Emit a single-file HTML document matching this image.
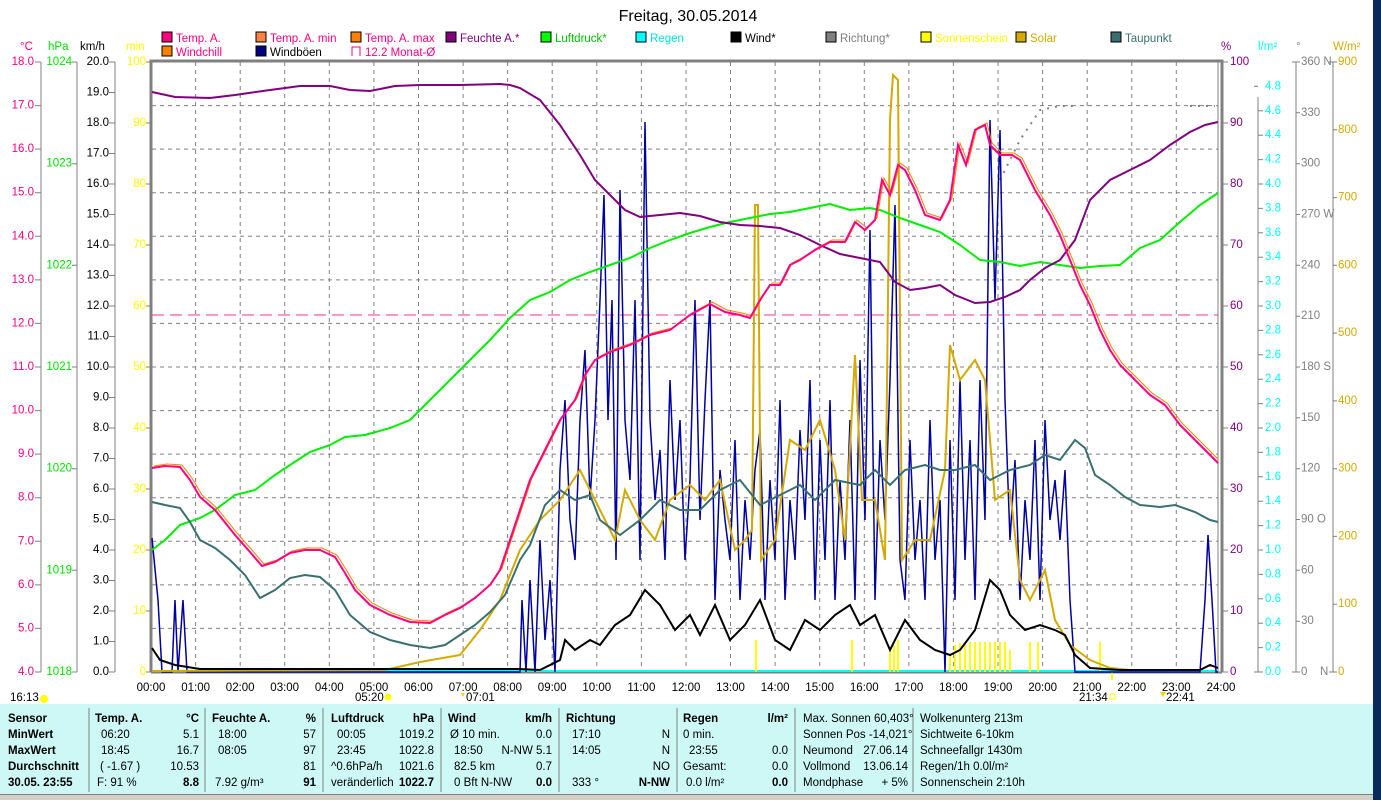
<!DOCTYPE html>
<html><head><meta charset="utf-8"><style>
html,body{margin:0;padding:0;background:#fff;width:1381px;height:800px;overflow:hidden}
svg{display:block;font-family:"Liberation Sans",sans-serif}
</style></head><body>
<svg width="1381" height="800" viewBox="0 0 1381 800" xmlns="http://www.w3.org/2000/svg">
<rect width="1381" height="800" fill="#fff"/>
<rect x="1373" y="0" width="8" height="800" fill="#0a2a5a"/>
<text x="688" y="21" font-size="16" text-anchor="middle" fill="#000">Freitag, 30.05.2014</text>

<!-- legend -->
<g font-size="11.5">
<rect x="162" y="32" width="10" height="10" fill="#ff0080" stroke="#000"/><text x="176" y="42" fill="#ff0080">Temp. A.</text>
<rect x="256" y="32" width="10" height="10" fill="#ff8040" stroke="#000"/><text x="270" y="42" fill="#ff0080">Temp. A. min</text>
<rect x="351" y="32" width="10" height="10" fill="#ff8000" stroke="#000"/><text x="365" y="42" fill="#ff0080">Temp. A. max</text>
<rect x="446" y="32" width="10" height="10" fill="#800080" stroke="#000"/><text x="460" y="42" fill="#800080">Feuchte A.*</text>
<rect x="541" y="32" width="10" height="10" fill="#00ff00" stroke="#000"/><text x="555" y="42" fill="#00c000">Luftdruck*</text>
<rect x="636" y="32" width="10" height="10" fill="#00ffff" stroke="#000"/><text x="650" y="42" fill="#00e0e0">Regen</text>
<rect x="731" y="32" width="10" height="10" fill="#000" stroke="#000"/><text x="745" y="42" fill="#000">Wind*</text>
<rect x="826" y="32" width="10" height="10" fill="#808080" stroke="#000"/><text x="840" y="42" fill="#808080">Richtung*</text>
<rect x="921" y="32" width="10" height="10" fill="#ffff00" stroke="#000"/><text x="935" y="42" fill="#ffff00">Sonnenschein</text>
<rect x="1016" y="32" width="10" height="10" fill="#d4aa00" stroke="#000"/><text x="1030" y="42" fill="#d4aa00">Solar</text>
<rect x="1111" y="32" width="10" height="10" fill="#3a7070" stroke="#000"/><text x="1125" y="42" fill="#3a7070">Taupunkt</text>
<rect x="162" y="46" width="10" height="10" fill="#ff8000" stroke="#000"/><text x="176" y="56" fill="#ff0080">Windchill</text>
<rect x="256" y="46" width="10" height="10" fill="#000080" stroke="#000"/><text x="270" y="56" fill="#000">Windböen</text>
<path d="M352 56 V47 H360 V56" fill="none" stroke="#ff0080"/><text x="365" y="56" fill="#ff0080">12.2 Monat-Ø</text>
</g>

<!-- units -->
<g font-size="11.5">
<text x="20" y="50" fill="#ff0080">°C</text>
<text x="48" y="50" fill="#00e000">hPa</text>
<text x="80" y="50" fill="#000">km/h</text>
<text x="126" y="50" fill="#ffff00">min</text>
<text x="1221" y="50" fill="#800080">%</text>
<text x="1258" y="50" fill="#00ffff">l/m²</text>
<text x="1296" y="50" fill="#808080">°</text>
<text x="1333" y="50" fill="#d4aa00">W/m²</text>
</g>

<!-- grid -->
<g stroke="#808080" stroke-dasharray="4,4" stroke-width="1">
<path d="M152 105.6H1218M152 149.1H1218M152 192.7H1218M152 236.3H1218M152 279.9H1218M152 323.4H1218M152 367H1218M152 410.6H1218M152 454.1H1218M152 497.7H1218M152 541.3H1218M152 584.9H1218M152 628.4H1218"/>
<path d="M195.6 62V672M240.2 62V672M284.7 62V672M329.3 62V672M373.9 62V672M418.5 62V672M463.1 62V672M507.6 62V672M552.2 62V672M596.8 62V672M641.4 62V672M686 62V672M730.5 62V672M775.1 62V672M819.7 62V672M864.3 62V672M908.9 62V672M953.4 62V672M998 62V672M1042.6 62V672M1087.2 62V672M1131.8 62V672M1176.3 62V672"/>
</g>
<!-- plot frame -->
<path d="M151 672V61H1222V672" fill="none" stroke="#808080" stroke-width="3"/>
<line x1="1218" y1="62" x2="1218" y2="672" stroke="#808080" stroke-width="1"/>
<line x1="151" y1="672.5" x2="1222" y2="672.5" stroke="#808080" stroke-width="2"/>

<!-- left axes -->
<g stroke="#808080" fill="none">
<path d="M41 62V672M77 62V672M115 62V672"/>
<path d="M35 62H41M35 105.6H41M35 149.1H41M35 192.7H41M35 236.3H41M35 279.9H41M35 323.4H41M35 367H41M35 410.6H41M35 454.1H41M35 497.7H41M35 541.3H41M35 584.9H41M35 628.4H41M35 672H41"/>
<path d="M72 62H77M72 163.7H77M72 265.3H77M72 367H77M72 468.7H77M72 570.3H77M72 672H77"/>
<path d="M109 62H115M109 92.5H115M109 123H115M109 153.5H115M109 184H115M109 214.5H115M109 245H115M109 275.5H115M109 306H115M109 336.5H115M109 367H115M109 397.5H115M109 428H115M109 458.5H115M109 489H115M109 519.5H115M109 550H115M109 580.5H115M109 611H115M109 641.5H115M109 672H115"/>
<path d="M146 62H151M146 123H151M146 184H151M146 245H151M146 306H151M146 367H151M146 428H151M146 489H151M146 550H151M146 611H151M146 672H151"/>
</g>
<g font-size="11.5" text-anchor="end" dominant-baseline="middle">
<g fill="#ff0080">
<text x="34" y="62">18.0</text><text x="34" y="105.6">17.0</text><text x="34" y="149.1">16.0</text><text x="34" y="192.7">15.0</text><text x="34" y="236.3">14.0</text><text x="34" y="279.9">13.0</text><text x="34" y="323.4">12.0</text><text x="34" y="367">11.0</text><text x="34" y="410.6">10.0</text><text x="34" y="454.1">9.0</text><text x="34" y="497.7">8.0</text><text x="34" y="541.3">7.0</text><text x="34" y="584.9">6.0</text><text x="34" y="628.4">5.0</text><text x="34" y="672">4.0</text>
</g>
<g fill="#00e000">
<text x="72" y="62">1024</text><text x="72" y="163.7">1023</text><text x="72" y="265.3">1022</text><text x="72" y="367">1021</text><text x="72" y="468.7">1020</text><text x="72" y="570.3">1019</text><text x="72" y="672">1018</text>
</g>
<g fill="#000">
<text x="109" y="62">20.0</text><text x="109" y="92.5">19.0</text><text x="109" y="123">18.0</text><text x="109" y="153.5">17.0</text><text x="109" y="184">16.0</text><text x="109" y="214.5">15.0</text><text x="109" y="245">14.0</text><text x="109" y="275.5">13.0</text><text x="109" y="306">12.0</text><text x="109" y="336.5">11.0</text><text x="109" y="367">10.0</text><text x="109" y="397.5">9.0</text><text x="109" y="428">8.0</text><text x="109" y="458.5">7.0</text><text x="109" y="489">6.0</text><text x="109" y="519.5">5.0</text><text x="109" y="550">4.0</text><text x="109" y="580.5">3.0</text><text x="109" y="611">2.0</text><text x="109" y="641.5">1.0</text><text x="109" y="672">0.0</text>
</g>
<g fill="#ffff00">
<text x="146" y="62">100</text><text x="146" y="123">90</text><text x="146" y="184">80</text><text x="146" y="245">70</text><text x="146" y="306">60</text><text x="146" y="367">50</text><text x="146" y="428">40</text><text x="146" y="489">30</text><text x="146" y="550">20</text><text x="146" y="611">10</text><text x="146" y="672">0</text>
</g>
</g>

<!-- right axes -->
<g stroke="#808080" fill="none">
<path d="M1258 97V672M1296 62V672M1333 62V672"/>
<path d="M1222 62H1228M1222 123H1228M1222 184H1228M1222 245H1228M1222 306H1228M1222 367H1228M1222 428H1228M1222 489H1228M1222 550H1228M1222 611H1228M1222 672H1228"/>
<path d="M1254 86.4H1258M1258 110.8H1263M1258 135.2H1263M1258 159.6H1263M1258 184H1263M1258 208.4H1263M1258 232.8H1263M1258 257.2H1263M1258 281.6H1263M1258 306H1263M1258 330.4H1263M1258 354.8H1263M1258 379.2H1263M1258 403.6H1263M1258 428H1263M1258 452.4H1263M1258 476.8H1263M1258 501.2H1263M1258 525.6H1263M1258 550H1263M1258 574.4H1263M1258 598.8H1263M1258 623.2H1263M1258 647.6H1263M1254 672H1263"/>
<path d="M1292 62H1300M1296 112.8H1300M1296 163.7H1300M1296 214.5H1300M1296 265.3H1300M1296 316.2H1300M1296 367H1300M1296 417.8H1300M1296 468.7H1300M1296 519.5H1300M1296 570.3H1300M1296 621.2H1300M1292 672H1300"/>
<path d="M1329 62H1337M1333 129.8H1337M1333 197.6H1337M1333 265.3H1337M1333 333.1H1337M1333 400.9H1337M1333 468.7H1337M1333 536.4H1337M1333 604.2H1337M1329 672H1337"/>
</g>
<g font-size="11.5" dominant-baseline="middle">
<g fill="#800080">
<text x="1230" y="62">100</text><text x="1230" y="123">90</text><text x="1230" y="184">80</text><text x="1230" y="245">70</text><text x="1230" y="306">60</text><text x="1230" y="367">50</text><text x="1230" y="428">40</text><text x="1230" y="489">30</text><text x="1230" y="550">20</text><text x="1230" y="611">10</text><text x="1230" y="672">0</text>
</g>
<g fill="#00ffff">
<text x="1265" y="86.4">4.8</text><text x="1265" y="110.8">4.6</text><text x="1265" y="135.2">4.4</text><text x="1265" y="159.6">4.2</text><text x="1265" y="184">4.0</text><text x="1265" y="208.4">3.8</text><text x="1265" y="232.8">3.6</text><text x="1265" y="257.2">3.4</text><text x="1265" y="281.6">3.2</text><text x="1265" y="306">3.0</text><text x="1265" y="330.4">2.8</text><text x="1265" y="354.8">2.6</text><text x="1265" y="379.2">2.4</text><text x="1265" y="403.6">2.2</text><text x="1265" y="428">2.0</text><text x="1265" y="452.4">1.8</text><text x="1265" y="476.8">1.6</text><text x="1265" y="501.2">1.4</text><text x="1265" y="525.6">1.2</text><text x="1265" y="550">1.0</text><text x="1265" y="574.4">0.8</text><text x="1265" y="598.8">0.6</text><text x="1265" y="623.2">0.4</text><text x="1265" y="647.6">0.2</text><text x="1265" y="672">0.0</text>
</g>
<g fill="#808080">
<text x="1301" y="62">360 N</text><text x="1301" y="112.8">330</text><text x="1301" y="163.7">300</text><text x="1301" y="214.5">270 W</text><text x="1301" y="265.3">240</text><text x="1301" y="316.2">210</text><text x="1301" y="367">180 S</text><text x="1301" y="417.8">150</text><text x="1301" y="468.7">120</text><text x="1301" y="519.5">90  O</text><text x="1301" y="570.3">60</text><text x="1301" y="621.2">30</text><text x="1301" y="672">0</text><text x="1320" y="672">N</text>
</g>
<g fill="#d4aa00">
<text x="1338" y="62">900</text><text x="1338" y="129.8">800</text><text x="1338" y="197.6">700</text><text x="1338" y="265.3">600</text><text x="1338" y="333.1">500</text><text x="1338" y="400.9">400</text><text x="1338" y="468.7">300</text><text x="1338" y="536.4">200</text><text x="1338" y="604.2">100</text><text x="1338" y="672">0</text>
</g>
</g>

<!-- x axis labels -->
<g font-size="11.5" text-anchor="middle" fill="#000">
<text x="151" y="691">00:00</text><text x="195.6" y="691">01:00</text><text x="240.2" y="691">02:00</text><text x="284.7" y="691">03:00</text><text x="329.3" y="691">04:00</text><text x="373.9" y="691">05:00</text><text x="418.5" y="691">06:00</text><text x="463.1" y="691">07:00</text><text x="507.6" y="691">08:00</text><text x="552.2" y="691">09:00</text><text x="596.8" y="691">10:00</text><text x="641.4" y="691">11:00</text><text x="686" y="691">12:00</text><text x="730.5" y="691">13:00</text><text x="775.1" y="691">14:00</text><text x="819.7" y="691">15:00</text><text x="864.3" y="691">16:00</text><text x="908.9" y="691">17:00</text><text x="953.4" y="691">18:00</text><text x="998" y="691">19:00</text><text x="1042.6" y="691">20:00</text><text x="1087.2" y="691">21:00</text><text x="1131.8" y="691">22:00</text><text x="1176.3" y="691">23:00</text><text x="1221" y="691">24:00</text>
</g>
<g font-size="11.5" fill="#000">
<text x="10" y="701">16:13</text><circle cx="44" cy="699" r="4" fill="#ffff00"/>
<text x="355" y="701">05:20</text><circle cx="388" cy="697" r="3.5" fill="#ffff00"/>
<text x="466" y="701">07:01</text><path d="M463 697 l-2 -4 l4 0z" fill="#ffd000"/>
<text x="1079" y="701">21:34</text><rect x="1110" y="694" width="5" height="5" fill="none" stroke="#ffff00"/>
<text x="1166" y="701">22:41</text><path d="M1160 692 l3 5 l3 -5z" fill="#ffd000"/>
</g>

<!-- monthly avg dashed -->
<line x1="152" y1="315" x2="1218" y2="315" stroke="#ff3090" stroke-width="1" stroke-dasharray="12,6"/>
<!-- rain -->
<line x1="152" y1="671" x2="1218" y2="671" stroke="#00ffff" stroke-width="2"/>
<!-- sunshine bars -->
<g stroke="#ffff00" stroke-width="2">
<path d="M756 672V640M852 672V640M890 672V650M894 672V645M898 672V640M950 672V655M955 672V645M960 672V643M965 672V642M970 672V642M975 672V642M980 672V642M985 672V642M990 672V642M995 672V642M1000 672V642M1005 672V642M1010 672V650M1030 672V642M1038 672V642M1100 672V642M1112 672V680"/>
</g>
<!-- direction dots -->
<path d="M1000 180 L1020 140 L1040 110 L1060 106 L1075 106" fill="none" stroke="#808080" stroke-width="2" stroke-dasharray="2,6"/>
<path d="M1190 106 L1215 106" fill="none" stroke="#808080" stroke-width="2" stroke-dasharray="2,6"/>

<!-- gusts -->
<polyline fill="none" stroke="#0000a0" stroke-width="1.5" points="152,538 158,600 162,672 172,672 175,600 178,672 183,600 187,672 520,672 522,600 526,672 530,580 535,672 540,540 545,640 550,580 555,672 560,470 565,400 570,520 575,560 580,420 585,350 590,500 595,420 600,300 604,195 608,420 612,300 616,560 620,190 625,420 630,480 635,300 640,560 645,122 650,420 655,500 660,450 665,560 670,380 675,500 680,420 685,560 690,480 695,300 700,520 705,400 710,300 715,600 720,470 725,520 730,560 735,440 740,600 745,500 750,560 755,470 760,430 765,600 770,480 775,560 780,400 785,600 790,500 795,560 800,430 805,520 810,380 815,600 820,440 825,560 830,400 835,600 840,480 845,560 850,420 855,600 860,360 865,520 870,230 875,600 880,440 885,520 890,380 895,205 900,560 905,600 910,440 915,560 920,500 925,600 930,420 935,560 940,500 945,672 950,440 955,600 960,380 965,560 970,440 975,600 980,380 985,520 990,120 995,300 1000,130 1005,400 1010,540 1015,460 1020,600 1025,500 1030,560 1035,440 1040,600 1045,420 1050,520 1055,480 1060,540 1065,470 1070,600 1075,672 1200,672 1205,600 1208,535 1212,600 1216,672 1218,672"/>

<!-- solar -->
<polyline fill="none" stroke="#d4aa00" stroke-width="2" points="152,671 385,670 420,662 460,655 480,630 500,600 520,550 540,520 560,500 580,470 600,510 615,540 625,490 640,520 655,540 670,500 690,485 705,500 720,480 735,550 745,540 752,530 755,205 758,205 761,560 775,540 790,440 805,450 820,420 835,470 845,540 855,355 862,500 875,500 885,560 890,120 893,75 898,80 902,560 915,540 930,540 945,470 950,345 960,380 975,360 985,380 995,500 1010,490 1020,580 1030,600 1045,570 1055,620 1070,645 1090,660 1110,668 1130,670"/>

<!-- pressure -->
<polyline fill="none" stroke="#00ee00" stroke-width="2" points="152,550 165,540 180,525 200,518 215,510 235,495 255,490 275,475 290,465 310,452 330,445 345,437 365,435 390,428 410,420 430,400 450,380 470,360 490,340 510,318 530,300 550,292 570,280 590,272 610,265 630,258 650,248 670,240 690,233 710,227 730,222 750,218 770,214 790,212 810,208 830,204 850,210 870,208 880,210 900,218 920,225 940,232 960,245 980,260 1000,262 1020,266 1040,262 1060,265 1080,268 1100,266 1120,265 1140,248 1160,240 1180,222 1200,205 1218,193"/>

<!-- humidity -->
<polyline fill="none" stroke="#800080" stroke-width="2" points="152,92 175,97 210,98 235,95 270,90 300,86 330,86 350,90 370,91 395,86 420,85 460,85 500,84 510,85 520,88 540,100 560,125 580,155 595,180 610,195 625,210 640,217 660,215 680,213 700,216 720,222 740,225 760,226 780,228 800,235 820,245 840,254 860,258 880,262 895,282 910,290 925,288 940,285 955,295 975,303 990,302 1005,297 1020,290 1030,280 1045,268 1060,260 1075,240 1090,200 1110,180 1130,170 1150,160 1170,145 1190,132 1205,125 1218,122"/>

<!-- dewpoint -->
<polyline fill="none" stroke="#3a7070" stroke-width="2" points="152,502 165,505 180,508 190,522 200,540 215,548 230,560 245,575 260,598 275,590 290,578 305,575 320,577 335,590 350,615 370,632 390,640 410,645 430,648 445,645 460,635 475,625 490,612 505,595 520,560 530,545 545,505 560,490 575,500 590,495 600,520 620,535 640,520 660,500 680,510 700,510 720,490 740,480 760,505 780,495 800,485 815,500 835,480 860,485 875,470 890,485 905,470 925,465 940,470 955,470 975,465 990,480 1010,470 1030,465 1045,455 1060,460 1075,440 1085,448 1095,475 1110,485 1125,497 1140,505 1160,507 1175,505 1195,512 1210,520 1218,522"/>

<!-- temp max (orange) -->
<polyline fill="none" stroke="#ff8000" stroke-width="1" transform="translate(2,-2)" points="152,468 165,466 180,467 190,480 200,497 215,510 235,535 250,552 262,566 275,562 290,553 305,550 320,550 335,557 345,573 355,590 370,605 390,615 410,622 430,623 445,615 460,608 475,598 490,585 500,570 510,540 520,510 530,480 545,450 560,420 575,400 585,375 595,360 610,352 630,345 650,335 670,330 690,315 710,304 725,312 740,315 750,318 760,300 770,285 780,285 790,265 800,260 815,250 830,242 845,242 855,222 865,230 875,220 882,180 890,195 898,165 905,170 915,190 925,215 940,220 950,200 958,145 966,165 975,130 985,125 990,145 1000,155 1012,155 1020,160 1035,190 1050,215 1060,235 1070,260 1080,285 1090,305 1100,330 1110,350 1120,365 1135,380 1150,395 1165,405 1180,425 1195,440 1210,455 1216,461"/>
<!-- temp -->
<polyline fill="none" stroke="#ff0080" stroke-width="2" points="152,468 165,466 180,467 190,480 200,497 215,510 235,535 250,552 262,566 275,562 290,553 305,550 320,550 335,557 345,573 355,590 370,605 390,615 410,622 430,623 445,615 460,608 475,598 490,585 500,570 510,540 520,510 530,480 545,450 560,420 575,400 585,375 595,360 610,352 630,345 650,335 670,330 690,315 710,304 725,312 740,315 750,318 760,300 770,285 780,285 790,265 800,260 815,250 830,242 845,242 855,222 865,230 875,220 882,180 890,195 898,165 905,170 915,190 925,215 940,220 950,200 958,145 966,165 975,130 985,125 990,145 1000,155 1012,155 1020,160 1035,190 1050,215 1060,235 1070,260 1080,285 1090,305 1100,330 1110,350 1120,365 1135,380 1150,395 1165,405 1180,425 1195,440 1210,455 1218,463"/>

<!-- wind -->
<polyline fill="none" stroke="#000" stroke-width="2" points="152,648 160,660 175,665 200,669 520,669 540,670 560,660 565,640 575,650 590,640 600,645 615,625 630,615 645,590 660,605 675,630 690,615 700,635 715,605 730,640 745,625 760,600 775,640 790,650 805,620 820,630 835,615 850,605 860,625 875,615 890,650 905,620 920,640 935,650 950,655 960,650 975,630 990,580 1000,590 1010,615 1025,630 1040,625 1055,630 1065,635 1075,655 1090,668 1120,670 1200,670 1210,665 1218,668"/>

<!-- bottom panel -->
<rect x="0" y="704" width="1373" height="90" fill="#cdf8f6"/>
<rect x="0" y="794" width="1373" height="6" fill="#d4d0c8"/>
<line x1="0" y1="794.5" x2="1373" y2="794.5" stroke="#808080"/>
<g stroke="#808080"><path d="M89 708V792M205 708V792M323 708V792M441 708V792M559 708V792M677 708V792M795 708V792M913 708V792"/></g>
<g font-size="11.5" fill="#000">
<g font-weight="bold">
<text x="8" y="722">Sensor</text><text x="8" y="738">MinWert</text><text x="8" y="754">MaxWert</text><text x="8" y="770">Durchschnitt</text><text x="8" y="786">30.05. 23:55</text>
<text x="95" y="722">Temp. A.</text><text x="199" y="722" text-anchor="end">°C</text>
<text x="212" y="722">Feuchte A.</text><text x="316" y="722" text-anchor="end">%</text>
<text x="331" y="722">Luftdruck</text><text x="434" y="722" text-anchor="end">hPa</text>
<text x="448" y="722">Wind</text><text x="552" y="722" text-anchor="end">km/h</text>
<text x="566" y="722">Richtung</text>
<text x="683" y="722">Regen</text><text x="788" y="722" text-anchor="end">l/m²</text>
<text x="199" y="786" text-anchor="end">8.8</text><text x="316" y="786" text-anchor="end">91</text><text x="434" y="786" text-anchor="end">1022.7</text><text x="552" y="786" text-anchor="end">0.0</text><text x="670" y="786" text-anchor="end">N-NW</text><text x="788" y="786" text-anchor="end">0.0</text>
</g>
<text x="101" y="738">06:20</text><text x="199" y="738" text-anchor="end">5.1</text>
<text x="101" y="754">18:45</text><text x="199" y="754" text-anchor="end">16.7</text>
<text x="100" y="770">( -1.67 )</text><text x="199" y="770" text-anchor="end">10.53</text>
<text x="97" y="786">F: 91 %</text>
<text x="218" y="738">18:00</text><text x="316" y="738" text-anchor="end">57</text>
<text x="218" y="754">08:05</text><text x="316" y="754" text-anchor="end">97</text>
<text x="316" y="770" text-anchor="end">81</text>
<text x="215" y="786">7.92 g/m³</text>
<text x="337" y="738">00:05</text><text x="434" y="738" text-anchor="end">1019.2</text>
<text x="337" y="754">23:45</text><text x="434" y="754" text-anchor="end">1022.8</text>
<text x="331" y="770">^0.6hPa/h</text><text x="434" y="770" text-anchor="end">1021.6</text>
<text x="331" y="786">veränderlich</text>
<text x="450" y="738">Ø 10 min.</text><text x="552" y="738" text-anchor="end">0.0</text>
<text x="454" y="754">18:50</text><text x="552" y="754" text-anchor="end">N-NW 5.1</text>
<text x="454" y="770">82.5 km</text><text x="552" y="770" text-anchor="end">0.7</text>
<text x="454" y="786">0 Bft N-NW</text>
<text x="572" y="738">17:10</text><text x="670" y="738" text-anchor="end">N</text>
<text x="572" y="754">14:05</text><text x="670" y="754" text-anchor="end">N</text>
<text x="670" y="770" text-anchor="end">NO</text>
<text x="572" y="786">333 °</text>
<text x="683" y="738">0 min.</text>
<text x="689" y="754">23:55</text><text x="788" y="754" text-anchor="end">0.0</text>
<text x="683" y="770">Gesamt:</text><text x="788" y="770" text-anchor="end">0.0</text>
<text x="686" y="786">0.0 l/m²</text>
<text x="803" y="722">Max. Sonnen 60,403°</text>
<text x="803" y="738">Sonnen Pos  -14,021°</text>
<text x="803" y="754">Neumond</text><text x="908" y="754" text-anchor="end">27.06.14</text>
<text x="803" y="770">Vollmond</text><text x="908" y="770" text-anchor="end">13.06.14</text>
<text x="803" y="786">Mondphase</text><text x="908" y="786" text-anchor="end">+ 5%</text>
<text x="920" y="722">Wolkenunterg   213m</text>
<text x="920" y="738">Sichtweite     6-10km</text>
<text x="920" y="754">Schneefallgr   1430m</text>
<text x="920" y="770">Regen/1h       0.0l/m²</text>
<text x="920" y="786">Sonnenschein  2:10h</text>
</g>
</svg>
</body></html>
